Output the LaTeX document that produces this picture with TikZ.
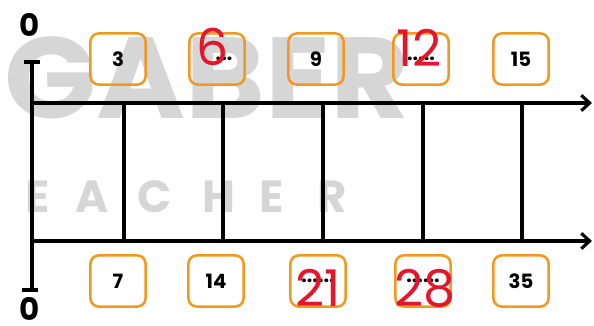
\documentclass[tikz,border=0pt]{standalone}
\usepackage{fontspec}
\setmainfont{Poppins}
\usetikzlibrary{arrows.meta}
\definecolor{boxorange}{RGB}{242,152,32}
\definecolor{markgray}{RGB}{214,214,214}
\definecolor{penred}{RGB}{228,22,44}

\begin{document}
\begin{tikzpicture}[x=0.025cm, y=-0.025cm,
    axisline/.style={line width=2.2pt, -{Straight Barb[length=6pt, width=11pt, line width=2.2pt]}},
    numbox/.style={draw=boxorange, line width=1.8pt, rounded corners=6pt,
        minimum width=1.38cm, minimum height=1.28cm, inner sep=0pt,
        font=\bfseries\fontsize{14}{14}\selectfont},
    zerolabel/.style={font=\bfseries\fontsize{22}{22}\selectfont},
    penmark/.style={text=penred, font=\fontsize{36}{36}\selectfont}]
    \useasboundingbox (0,0) rectangle (594,326);

    % watermark
    \node[text=markgray, font=\bfseries\fontsize{82}{82}\selectfont, xscale=1.05] (markA) at (207,78) {GABER};
    \foreach \ch/\x in {E/38, A/92, C/155, H/219, E/272, R/332}
        \node[text=markgray, font=\bfseries\fontsize{32}{32}\selectfont] at (\x,197) {\ch};

    % the two number lines
    \coordinate (topstart) at (32,103);
    \coordinate (topend) at (592,103);
    \coordinate (botstart) at (32,241);
    \coordinate (botend) at (592,241);
    \coordinate (toptick) at (32,62);
    \coordinate (bottick) at (32,290);

    \draw[axisline] (topstart) -- (topend);
    \draw[axisline] (botstart) -- (botend);
    \draw[line width=2.2pt] (toptick) -- (bottick);
    \draw[line width=2.2pt] (24,62) -- (40,62);
    \draw[line width=2.2pt] (22,290) -- (38,290);

    \foreach \x in {124,223,323,423,522}
        \draw[line width=2.2pt] (\x,103) -- (\x,241);

    \node[zerolabel] (zerotop) at (30,25) {0};
    \node[zerolabel] (zerobot) at (30,309) {0};

    % top boxes
    \node[numbox] (top3) at (118,59) {3};
    \node[numbox] (top6) at (217,59) {\hspace{10pt}...};
    \node[numbox] (top9) at (316,59) {9};
    \node[numbox] (top12) at (421,59) {.....};
    \node[numbox] (top15) at (521,59) {15};

    % bottom boxes
    \node[numbox] (bot7) at (118,281) {7};
    \node[numbox] (bot14) at (216,281) {14};
    \node[numbox] (bot21) at (318,281) {......};
    \node[numbox] (bot28) at (423,281) {......};
    \node[numbox] (bot35) at (521,281) {35};

    % answers written in red
    \node[penmark] at (213,47) {6};
    \node[penmark] at (419,48) {12};
    \node[penmark] at (318,288) {21};
    \node[penmark] at (425,288) {28};
\end{tikzpicture}
\end{document}
